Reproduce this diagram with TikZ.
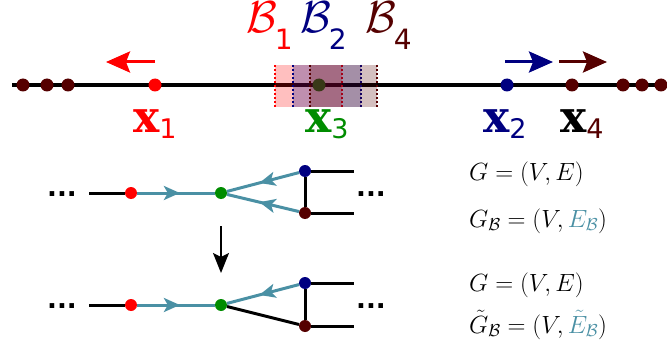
\documentclass[tikz,border=0pt]{standalone}
\usepackage{fontspec}
\usetikzlibrary{arrows.meta,decorations.markings}
\newfontfamily\subfont{DejaVu Sans}
\newfontfamily\xfont{DejaVu Serif}
\definecolor{bred}{RGB}{255,0,0}
\definecolor{bblue}{RGB}{0,0,128}
\definecolor{bmaroon}{RGB}{85,0,0}
\definecolor{bgreen}{RGB}{0,140,0}
\definecolor{edgeteal}{RGB}{74,144,164}
\newcommand{\ptlab}[3]{{\color{#1}\fontsize{44}{44}\xfont\bfseries x}\raisebox{-6pt}{\color{#2}\fontsize{27}{27}\subfont #3}}
\newcommand{\blab}[2]{{\color{#1}\scalebox{1.8}{\fontsize{24.88}{26}\selectfont$\mathcal{B}$}\hspace{-2pt}\raisebox{-17pt}{\fontsize{28}{28}\subfont #2}}}
\newcommand{\ddd}{{\fontsize{26}{26}\subfont\bfseries ...}}
\newcommand{\eqfont}{\fontsize{26}{30}\selectfont}
\begin{document}
\begin{tikzpicture}[x=1pt,y=-1pt,
  dot/.style={circle, fill=#1, inner sep=0pt, minimum size=13pt},
  sdot/.style={circle, fill=#1, inner sep=0pt, minimum size=12pt},
  axis/.style={line width=4pt},
  push/.style={line width=3pt, -{Stealth[length=24pt,width=21pt,inset=4pt]}},
  tedge/.style={edgeteal, line width=3pt, postaction={decorate},
    decoration={markings, mark=at position 0.55 with {\arrow{Stealth[length=16pt,width=14pt,inset=4pt]}}}},
  bedge/.style={line width=3pt},
  lab/.style={inner sep=0pt, anchor=base west}]
\useasboundingbox (0,0) rectangle (667,345);

% line with the points
\coordinate (al) at (12,85);
\coordinate (ar) at (667,85);
\draw[axis] (al) -- (ar);
\foreach \i/\x in {1/23,2/47,3/68,4/623,5/642,6/661}
  \node[dot=bmaroon] (o\i) at (\x,85) {};
\node[dot=bred] (p1) at (155,85) {};
\node[dot=bgreen] (p3) at (319,85) {};
\node[dot=bblue] (p2) at (507,85) {};
\node[dot=bmaroon] (p4) at (572,85) {};

% boxes
\foreach \l/\r/\c in {275/342/bred, 293/361/bblue, 310/377/bmaroon}{
  \fill[\c, opacity=.25] (\l,65) rectangle (\r,107);
  \draw[\c, line width=1.5pt, dash pattern=on 2pt off 2pt] (\l,65) -- (\l,107) (\r,65) -- (\r,107);
}

% moves
\coordinate (m1s) at (155,62); \coordinate (m1e) at (106,62);
\coordinate (m2s) at (505,62); \coordinate (m2e) at (553,62);
\coordinate (m4s) at (559,62); \coordinate (m4e) at (607,62);
\draw[push, bred] (m1s) -- (m1e);
\draw[push, bblue] (m2s) -- (m2e);
\draw[push, bmaroon] (m4s) -- (m4e);

% labels
\node[lab] (b1) at (246,33) {\blab{bred}{1}};
\node[lab] (b2) at (300,33) {\blab{bblue}{2}};
\node[lab] (b4) at (365,33) {\blab{bmaroon}{4}};
\node[lab] (x1) at (133,132) {\ptlab{bred}{bred}{1}};
\node[lab] (x3) at (305,132) {\ptlab{bgreen}{bgreen}{3}};
\node[lab] (x2) at (483,132) {\ptlab{bblue}{bblue}{2}};
\node[lab] (x4) at (560,132) {\ptlab{black}{bmaroon}{4}};

% graph before
\node[sdot=bred] (r1) at (131,193) {};
\node[sdot=bgreen] (g1) at (221,193) {};
\node[sdot=bblue] (u1) at (305,171) {};
\node[sdot=bmaroon] (w1) at (305,213) {};
\coordinate (s1) at (89,193);
\coordinate (u1e) at (354,171);
\coordinate (w1e) at (354,213);
\node[anchor=base] (d1) at (62,196) {\ddd};
\node[anchor=base] (e1) at (371,196) {\ddd};
\draw[bedge] (s1) -- (r1);
\draw[tedge] (r1) -- (g1);
\draw[tedge] (u1) -- (g1);
\draw[tedge] (w1) -- (g1);
\draw[bedge] (u1) -- (w1);
\draw[bedge] (u1) -- (u1e);
\draw[bedge] (w1) -- (w1e);

% step
\coordinate (t1) at (221,226);
\coordinate (t2) at (221,273);
\draw[line width=1.5pt, -{Stealth[length=20pt,width=16pt,inset=4pt]}] (t1) -- (t2);

% graph after
\node[sdot=bred] (r2) at (131,305) {};
\node[sdot=bgreen] (g2) at (221,305) {};
\node[sdot=bblue] (u2) at (305,283) {};
\node[sdot=bmaroon] (w2) at (305,326) {};
\coordinate (s2) at (89,305);
\coordinate (u2e) at (354,283);
\coordinate (w2e) at (354,326);
\node[anchor=base] (d2) at (62,308) {\ddd};
\node[anchor=base] (e2) at (371,308) {\ddd};
\draw[bedge] (s2) -- (r2);
\draw[tedge] (r2) -- (g2);
\draw[tedge] (u2) -- (g2);
\draw[bedge] (w2) -- (g2);
\draw[bedge] (u2) -- (w2);
\draw[bedge] (u2) -- (u2e);
\draw[bedge] (w2) -- (w2e);

% graphs
\node[lab] (q1) at (469,180) {\eqfont$G=(V,E)$};
\node[lab] (q2) at (469,227) {\eqfont$G_{\mathcal{B}}=(V,{\color{edgeteal}E_{\mathcal{B}}})$};
\node[lab] (q3) at (469,291) {\eqfont$G=(V,E)$};
\node[lab] (q4) at (469,333) {\eqfont$\tilde{G}_{\mathcal{B}}=(V,{\color{edgeteal}\tilde{E}_{\mathcal{B}}})$};
\end{tikzpicture}
\end{document}
